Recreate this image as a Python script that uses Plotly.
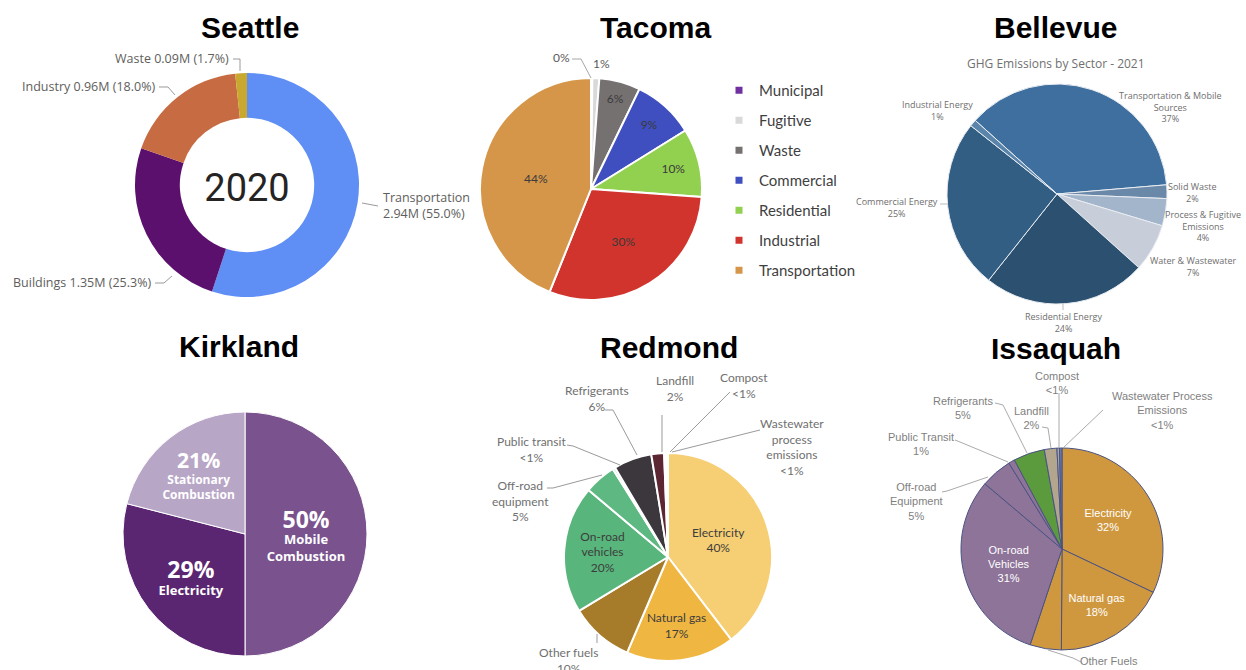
import plotly.graph_objects as go

W, H = 1246, 670

# ---------------- DATA ----------------
# Seattle (2020, MT CO2e)
sea_labels = ["Transportation", "Buildings", "Industry", "Waste"]
sea_values = [2.94, 1.35, 0.96, 0.09]
sea_pct = ["55.0%", "25.3%", "18.0%", "1.7%"]
sea_colors = ["#5F8FF5", "#5C106E", "#C76B42", "#C8A82E"]

# Tacoma
tac_labels = ["Municipal", "Fugitive", "Waste", "Commercial", "Residential", "Industrial", "Transportation"]
tac_values = [0.2, 1, 6, 9, 10, 30, 44]
tac_pct = ["0%", "1%", "6%", "9%", "10%", "30%", "44%"]
tac_colors = ["#7030A0", "#D9D9D9", "#767171", "#3F4FC0", "#92D050", "#D0342C", "#D6964A"]

# Bellevue
bel_labels = ["Transportation & Mobile Sources", "Solid Waste", "Process & Fugitive Emissions",
              "Water & Wastewater", "Residential Energy", "Commercial Energy", "Industrial Energy"]
bel_values = [37, 2, 4, 7, 24, 25, 1]
bel_pct = ["37%", "2%", "4%", "7%", "24%", "25%", "1%"]
bel_colors = ["#3E6F9E", "#6A88A8", "#A3B5CA", "#C7CDD9", "#2B5070", "#335E84", "#5B84AA"]

# Kirkland
kir_labels = ["Mobile Combustion", "Electricity", "Stationary Combustion"]
kir_values = [50, 29, 21]
kir_pct = ["50%", "29%", "21%"]
kir_colors = ["#7A528E", "#5A2672", "#B8A6C7"]

# Redmond
red_labels = ["Electricity", "Natural gas", "Other fuels", "On-road vehicles", "Off-road equipment",
              "Public transit", "Refrigerants", "Landfill", "Compost", "Wastewater process emissions"]
red_values = [40, 17, 10, 20, 5, 0.4, 6, 2, 0.3, 0.3]
red_pct = ["40%", "17%", "10%", "20%", "5%", "<1%", "6%", "2%", "<1%", "<1%"]
red_colors = ["#F6CE73", "#F0B642", "#A67B29", "#58B57B", "#5DB882", "#B9DEC5",
              "#3C373D", "#5C2733", "#8C4C58", "#D9C9A8"]

# Issaquah
iss_labels = ["Electricity", "Natural gas", "Other Fuels", "On-road Vehicles", "Off-road Equipment",
              "Public Transit", "Refrigerants", "Landfill", "Compost", "Wastewater Process Emissions"]
iss_values = [32, 18, 5, 31, 5, 1, 5, 2, 0.4, 0.4]
iss_pct = ["32%", "18%", "5%", "31%", "5%", "1%", "5%", "2%", "<1%", "<1%"]
iss_colors = ["#CF983F", "#CF983F", "#CF983F", "#8E7499", "#8E7499", "#8E7499",
              "#5B9B3D", "#B2A68F", "#A8A8A8", "#6B78A8"]

# ---------------- HELPERS ----------------
def dom(cx, cy, r):
    return dict(x=[(cx - r) / W, (cx + r) / W], y=[1 - (cy + r) / H, 1 - (cy - r) / H])

def P(x, y):
    return f"{x / W:.5f},{1 - y / H:.5f}"

def leader(pts, color="#9A9A9A"):
    path = "M" + " L".join(P(x, y) for x, y in pts)
    return dict(type="path", xref="paper", yref="paper", path=path,
                line=dict(color=color, width=1))

def note(text, x, y, size, color, family, xanchor="center", align="center", bold=False):
    return dict(text=(f"<b>{text}</b>" if bold else text), x=x / W, y=1 - y / H,
                xref="paper", yref="paper", showarrow=False, xanchor=xanchor,
                yanchor="middle", align=align, font=dict(size=size, color=color, family=family))

fig = go.Figure()
annotations = []
shapes = []

# ---------------- SEATTLE ----------------
fig.add_trace(go.Pie(
    labels=sea_labels, values=sea_values, hole=0.6, sort=False, direction="clockwise", rotation=0,
    marker=dict(colors=sea_colors, line=dict(width=0)), textinfo="none", showlegend=False,
    domain=dom(247, 185, 112),
    title=dict(text="2020", position="middle center", font=dict(size=38, family="Roboto", color="#252423")),
))
sea_fmt = {"Transportation": (381, 205, "left", "<br>"), "Buildings": (153, 282, "right", " "),
           "Industry": (157, 87, "right", " "), "Waste": (231, 59, "right", " ")}
for lab, v, p in zip(sea_labels, sea_values, sea_pct):
    x, y, xa, sep = sea_fmt[lab]
    annotations.append(note(f"{lab}{sep}{v:.2f}M ({p})", x, y, 12.5, "#605E5C", "Open Sans",
                            xanchor=xa, align="left"))
shapes += [leader([(362, 203), (378, 206)]),
           leader([(155, 283), (164, 283), (172, 276)]),
           leader([(159, 87), (168, 87), (175, 95)]),
           leader([(233, 59), (240, 59), (240, 71)])]

# ---------------- TACOMA ----------------
tac_inside = [("" if i < 2 else t) for i, t in enumerate(tac_pct)]
fig.add_trace(go.Pie(
    labels=tac_labels, values=tac_values, sort=False, direction="clockwise", rotation=0,
    marker=dict(colors=tac_colors, line=dict(color="white", width=2)),
    text=tac_inside, textinfo="text", textposition="inside", insidetextorientation="horizontal",
    textfont=dict(size=12, color="#3A3A3A", family="Lato"), showlegend=False,
    domain=dom(591, 189, 111),
))
annotations.append(note(tac_pct[0], 561, 57, 12, "#595959", "Lato"))
annotations.append(note(tac_pct[1], 601, 63, 12, "#595959", "Lato"))
shapes.append(leader([(572, 59), (581, 59), (591, 78)], color="#A6A6A6"))
for lab, c in zip(tac_labels, tac_colors):
    fig.add_trace(go.Scatter(x=[None], y=[None], mode="markers", name=lab, legendgroup=lab,
                             marker=dict(symbol="square", size=7, color=c), showlegend=True,
                             hoverinfo="skip"))

# ---------------- BELLEVUE ----------------
fig.add_trace(go.Pie(
    labels=bel_labels, values=bel_values, sort=False, direction="clockwise", rotation=-48,
    marker=dict(colors=bel_colors, line=dict(color="#E9EDF2", width=1)), textinfo="none",
    showlegend=False, domain=dom(1057, 194, 110),
))
bel_disp = {"Transportation & Mobile Sources": ("Transportation & Mobile<br>Sources", 1170, 107),
            "Solid Waste": ("Solid Waste", 1192, 193),
            "Process & Fugitive Emissions": ("Process & Fugitive<br>Emissions", 1203, 226),
            "Water & Wastewater": ("Water & Wastewater", 1193, 266),
            "Residential Energy": ("Residential Energy", 1063, 322),
            "Commercial Energy": ("Commercial Energy", 897, 207),
            "Industrial Energy": ("Industrial Energy", 937, 110)}
for lab, p in zip(bel_labels, bel_pct):
    t, x, y = bel_disp[lab]
    annotations.append(note(f"{t}<br>{p}", x, y, 9, "#6E6E6E", "Open Sans"))
annotations.append(note("GHG Emissions by Sector - 2021", 1056, 63, 12, "#707070", "Open Sans"))
shapes += [leader([(1063, 303), (1063, 310)], color="#BBBBBB"),
           leader([(940, 204), (948, 204)], color="#BBBBBB")]

# ---------------- KIRKLAND ----------------
kir_text = []
for lab, p in zip(kir_labels, kir_pct):
    words = lab.split(" ")
    kir_text.append(f"<b><span style='font-size:23px'>{p}</span><br>" + "<br>".join(words) + "</b>")
fig.add_trace(go.Pie(
    labels=kir_labels, values=kir_values, sort=False, direction="clockwise", rotation=0,
    marker=dict(colors=kir_colors, line=dict(color="white", width=1)),
    text=kir_text, textinfo="text", textposition="inside", insidetextorientation="horizontal",
    textfont=dict(size=13, color="white", family="Open Sans"), showlegend=False,
    domain=dom(245, 534, 122),
))

# ---------------- REDMOND ----------------
red_in = {"Electricity": "Electricity", "Natural gas": "Natural gas", "On-road vehicles": "On-road<br>vehicles"}
red_inside = [(f"{red_in[l]}<br>{p}" if l in red_in else "") for l, p in zip(red_labels, red_pct)]
fig.add_trace(go.Pie(
    labels=red_labels, values=red_values, sort=False, direction="clockwise", rotation=0,
    marker=dict(colors=red_colors, line=dict(color="white", width=2)),
    text=red_inside, textinfo="text", textposition="inside", insidetextorientation="horizontal",
    textfont=dict(size=12, color="#3D3D3D", family="Lato"), showlegend=False,
    domain=dom(668, 557, 104),
))
red_out = {"Other fuels": ("Other fuels", 568, 660),
           "Off-road equipment": ("Off-road<br>equipment", 520, 501),
           "Public transit": ("Public transit", 531, 449),
           "Refrigerants": ("Refrigerants", 597, 398),
           "Landfill": ("Landfill", 675, 388),
           "Compost": ("Compost", 744, 386),
           "Wastewater process emissions": ("Wastewater<br>process<br>emissions", 792, 447)}
for lab, p in zip(red_labels, red_pct):
    if lab in red_out:
        t, x, y = red_out[lab]
        annotations.append(note(f"{t}<br>{p}", x, y, 12, "#707070", "Lato"))
shapes += [leader([(597, 634), (597, 643)]),
           leader([(547, 488), (553, 488), (602, 475)]),
           leader([(567, 445), (573, 446), (620, 465)]),
           leader([(605, 410), (613, 410), (637, 455)]),
           leader([(662, 415), (662, 452)]),
           leader([(730, 392), (670, 452)]),
           leader([(760, 430), (672, 452)])]

# ---------------- ISSAQUAH ----------------
iss_in = {"Electricity": "Electricity", "Natural gas": "Natural gas", "On-road Vehicles": "On-road<br>Vehicles"}
iss_inside = [(f"{iss_in[l]}<br>{p}" if l in iss_in else "") for l, p in zip(iss_labels, iss_pct)]
fig.add_trace(go.Pie(
    labels=iss_labels, values=iss_values, sort=False, direction="clockwise", rotation=0,
    marker=dict(colors=iss_colors, line=dict(color="#4B5383", width=1)),
    text=iss_inside, textinfo="text", textposition="inside", insidetextorientation="horizontal",
    textfont=dict(size=11, color="white", family="Liberation Sans"), showlegend=False,
    domain=dom(1062, 549, 101),
))
iss_out = {"Other Fuels": ("Other Fuels", 1109, 668),
           "Off-road Equipment": ("Off-road<br>Equipment", 916, 501),
           "Public Transit": ("Public Transit", 921, 444),
           "Refrigerants": ("Refrigerants", 963, 408),
           "Landfill": ("Landfill", 1031, 418),
           "Compost": ("Compost", 1057, 383),
           "Wastewater Process Emissions": ("Wastewater Process<br>Emissions", 1162, 411)}
for lab, p in zip(iss_labels, iss_pct):
    if lab in iss_out:
        t, x, y = iss_out[lab]
        annotations.append(note(f"{t}<br>{p}", x, y, 11, "#7F7F7F", "Liberation Sans"))
shapes += [leader([(1081, 662), (1073, 658), (1048, 650)], color="#AAAAAA"),
           leader([(942, 492), (947, 491), (988, 477)], color="#AAAAAA"),
           leader([(955, 440), (960, 442), (1008, 462)], color="#AAAAAA"),
           leader([(995, 403), (1003, 405), (1027, 453)], color="#AAAAAA"),
           leader([(1042, 427), (1048, 428), (1051, 448)], color="#AAAAAA"),
           leader([(1059, 393), (1059, 448)], color="#AAAAAA"),
           leader([(1103, 410), (1063, 448)], color="#AAAAAA")]

# ---------------- TITLES ----------------
for name, x, y in [("Seattle", 250, 27), ("Tacoma", 655, 27), ("Bellevue", 1055, 27),
                   ("Kirkland", 239, 346), ("Redmond", 669, 347), ("Issaquah", 1056, 348)]:
    annotations.append(note(name, x, y, 30, "#000000", "Liberation Sans", bold=True))

fig.update_layout(
    width=W, height=H, autosize=False,
    margin=dict(l=0, r=0, t=0, b=0),
    paper_bgcolor="white", plot_bgcolor="white",
    xaxis=dict(visible=False), yaxis=dict(visible=False),
    showlegend=True,
    legend=dict(x=719 / W, y=1 - 74 / H, xanchor="left", yanchor="top",
                traceorder="grouped", tracegroupgap=7.5, itemsizing="trace",
                font=dict(size=15, color="#3F3F3F", family="Lato"),
                bgcolor="rgba(0,0,0,0)"),
    annotations=annotations, shapes=shapes,
)

fig.write_html("out.html", post_script="document.body.style.margin='0';")
